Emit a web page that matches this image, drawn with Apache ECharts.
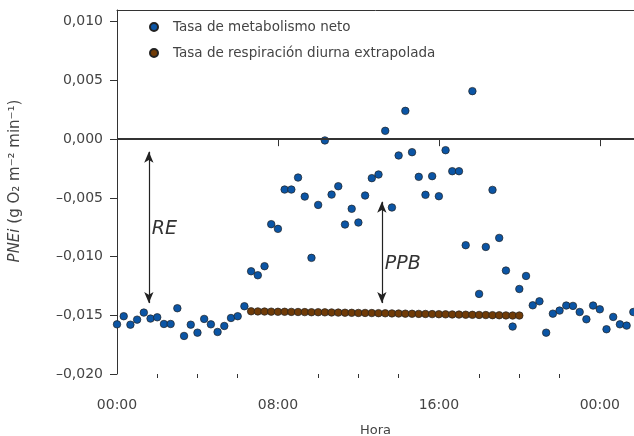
<!DOCTYPE html>
<html>
<head>
<meta charset="utf-8">
<script src="https://cdn.jsdelivr.net/npm/echarts@6/dist/echarts.min.js"></script>
<style>
  html, body { margin: 0; padding: 0; background: #fff; }
  #chart { width: 634px; height: 436px; }
</style>
</head>
<body>
<div id="chart"></div>
<script>
// minutos desde las 00:00, una medida cada 20 min
const netMinutes = [
  0, 20, 40, 60, 80, 100, 120, 140, 160, 180,
  200, 220, 240, 260, 280, 300, 320, 340, 360, 380,
  400, 420, 440, 460, 480, 500, 520, 540, 560, 580,
  600, 620, 640, 660, 680, 700, 720, 740, 760, 780,
  800, 820, 840, 860, 880, 900, 920, 940, 960, 980,
  1000, 1020, 1040, 1060, 1080, 1100, 1120, 1140, 1160, 1180,
  1200, 1220, 1240, 1260, 1280, 1300, 1320, 1340, 1360, 1380,
  1400, 1420, 1440, 1460, 1480, 1500, 1520, 1540
];
// tasa de metabolismo neto (g O2 m-2 min-1)
const netRate = [
  -0.01577, -0.01508, -0.01580, -0.01537, -0.01477, -0.01528, -0.01517, -0.01574, -0.01574, -0.01440,
  -0.01676, -0.01580, -0.01648, -0.01531, -0.01577, -0.01642, -0.01591, -0.01523, -0.01508, -0.01423,
  -0.01125, -0.01159, -0.01082, -0.00724, -0.00764, -0.00429, -0.00429, -0.00327, -0.00489, -0.01011,
  -0.00560, -0.00011, -0.00472, -0.00401, -0.00727, -0.00593, -0.00710, -0.00480, -0.00332, -0.00301,
  0.00071, -0.00582, -0.00139, 0.00241, -0.00111, -0.00321, -0.00474, -0.00315, -0.00486, -0.00094,
  -0.00273, -0.00273, -0.00903, 0.00409, -0.01318, -0.00918, -0.00432, -0.00841, -0.01119, -0.01596,
  -0.01276, -0.01165, -0.01415, -0.01381, -0.01648, -0.01486, -0.01460, -0.01417, -0.01420, -0.01472,
  -0.01534, -0.01417, -0.01449, -0.01619, -0.01514, -0.01577, -0.01588, -0.01472
];

// respiración diurna extrapolada, de 06:40 a 20:00
const respMinutes = [
  400, 420, 440, 460, 480, 500, 520, 540, 560, 580,
  600, 620, 640, 660, 680, 700, 720, 740, 760, 780,
  800, 820, 840, 860, 880, 900, 920, 940, 960, 980,
  1000, 1020, 1040, 1060, 1080, 1100, 1120, 1140, 1160, 1180,
  1200
];
const respRate = [
  -0.01466, -0.01467, -0.01468, -0.01469, -0.01470, -0.01470, -0.01471, -0.01472, -0.01473, -0.01474,
  -0.01474, -0.01475, -0.01476, -0.01477, -0.01478, -0.01479, -0.01480, -0.01480, -0.01481, -0.01482,
  -0.01483, -0.01484, -0.01485, -0.01486, -0.01487, -0.01488, -0.01489, -0.01490, -0.01491, -0.01492,
  -0.01493, -0.01494, -0.01495, -0.01496, -0.01497, -0.01498, -0.01499, -0.01500, -0.01501, -0.01502,
  -0.01502
];

const xTickMinutes = [0, 480, 960, 1440];
const xTickLabels = ["00:00", "08:00", "16:00", "00:00"];
const xMinorMinutes = [120, 240, 360, 600, 720, 840, 1080, 1200, 1320];
const yTicks = [-0.02, -0.015, -0.01, -0.005, 0, 0.005, 0.01];

// flechas RE y PPB: [minuto, desde, hasta]
const arrowRE = [95, -0.00107, -0.01396];
const arrowPPB = [790, -0.00533, -0.01396];

const chart = echarts.init(document.getElementById("chart"));
const FONT = "DejaVu Sans";
const INK = "#333";

const yFmt = (v) => {
  if (Math.abs(v) < 1e-9) return "0,000";
  return v.toFixed(3).replace(".", ",").replace("-", "\u2013");
};

const arrowLine = (a) => [
  { coord: [a[0], a[1]] },
  { coord: [a[0], a[2]] },
];

chart.setOption({
  animation: false,
  textStyle: { fontFamily: FONT },
  grid: { left: 117, right: 0, top: 10, bottom: 62, outerBoundsMode: "none" },
  legend: {
    orient: "vertical",
    left: 144,
    top: 14,
    itemWidth: 28,
    itemHeight: 8,
    itemGap: 10,
    icon: "circle",
    textStyle: { fontFamily: FONT, fontSize: 13.5, color: "#444", lineHeight: 16 },
    data: ["Tasa de metabolismo neto", "Tasa de respiración diurna extrapolada"],
  },
  xAxis: [
    {
      type: "value",
      min: 0,
      max: 1542,
      interval: 480,
      name: "Hora",
      nameLocation: "middle",
      nameGap: 50,
      nameTextStyle: { fontFamily: FONT, fontSize: 13, color: "#444" },
      axisLine: { lineStyle: { color: INK, width: 1 } },
      axisTick: { length: 7, customValues: xTickMinutes, lineStyle: { color: INK } },
      axisLabel: {
        customValues: xTickMinutes,
        margin: 24,
        fontSize: 14,
        color: "#444",
        formatter: (v) => {
          const i = xTickMinutes.indexOf(v);
          return i >= 0 ? xTickLabels[i] : "";
        },
      },
      splitLine: { show: false },
    },
    {
      type: "value",
      position: "top",
      min: 0,
      max: 1542,
      axisLine: { show: true, onZero: false, lineStyle: { color: INK, width: 1 } },
      axisTick: { show: false },
      axisLabel: { show: false },
      splitLine: { show: false },
    },
    {
      // marcas menores cada 2 h
      type: "value",
      position: "bottom",
      min: 0,
      max: 1542,
      axisLine: { show: false, onZero: false },
      axisTick: { show: true, length: 4, customValues: xMinorMinutes, lineStyle: { color: INK } },
      axisLabel: { show: false },
      splitLine: { show: false },
    },
  ],
  yAxis: {
    type: "value",
    min: -0.02,
    max: 0.011,
    interval: 0.005,
    name: "{i|PNEi} (g O\u2082 m\u207B\u00B2 min\u207B\u00B9)",
    nameLocation: "middle",
    nameGap: 94,
    nameTextStyle: {
      fontFamily: FONT,
      fontSize: 15,
      color: "#444",
      padding: [0, 0, 0, 22],
      rich: { i: { fontFamily: FONT, fontSize: 15, color: "#444", fontStyle: "italic" } },
    },
    axisLine: { show: true, onZero: false, lineStyle: { color: INK, width: 1 } },
    axisTick: { length: 7, customValues: yTicks, lineStyle: { color: INK } },
    axisLabel: {
      customValues: yTicks,
      margin: 14,
      fontSize: 14,
      color: "#444",
      formatter: yFmt,
    },
    splitLine: { show: false },
  },
  series: [
    {
      name: "Tasa de metabolismo neto",
      type: "scatter",
      symbolSize: 7.5,
      itemStyle: { color: "#0b55a5", borderColor: "#222", borderWidth: 0.7, opacity: 1 },
      data: netMinutes.map((m, i) => [m, netRate[i]]),
      z: 3,
      markLine: {
        silent: true,
        animation: false,
        symbol: ["arrow", "arrow"],
        symbolSize: [7, 11],
        label: { show: false },
        lineStyle: { color: "#222", width: 1.2, type: "solid" },
        data: [arrowLine(arrowRE), arrowLine(arrowPPB)],
      },
      markPoint: {
        silent: true,
        symbol: "circle",
        symbolSize: 0,
        label: {
          show: true,
          position: "right",
          distance: 3,
          fontFamily: FONT,
          fontSize: 19,
          fontStyle: "italic",
          color: "#333",
          formatter: (p) => p.name,
        },
        data: [
          { name: "RE", coord: [95, -0.00763] },
          { name: "PPB", coord: [790, -0.01065] },
        ],
      },
    },
    {
      name: "Tasa de respiración diurna extrapolada",
      type: "scatter",
      symbolSize: 7.5,
      itemStyle: { color: "#703b07", borderColor: "#222", borderWidth: 0.7, opacity: 1 },
      data: respMinutes.map((m, i) => [m, respRate[i]]),
      z: 3,
      markLine: {
        silent: true,
        animation: false,
        symbol: ["none", "none"],
        label: { show: false },
        lineStyle: { color: "#333", width: 2, type: "solid" },
        data: [{ yAxis: 0 }],
      },
    },
  ],
});
</script>
</body>
</html>
